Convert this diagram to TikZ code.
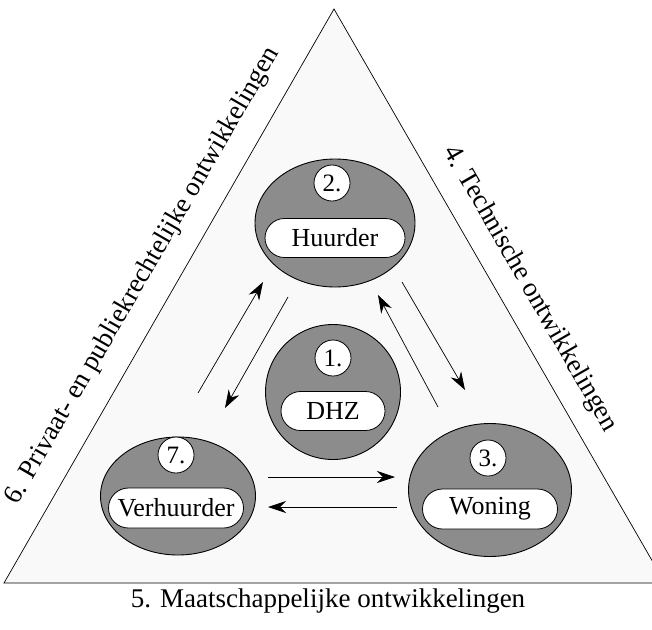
\documentclass[tikz,border=0pt]{standalone}
\usepackage{fontspec}
\setmainfont{Liberation Serif}
\usetikzlibrary{positioning,calc}
\usetikzlibrary{arrows.meta,shapes.geometric,shapes.misc}
\definecolor{DiskGray}{RGB}{140,140,140}
\definecolor{FieldGray}{RGB}{249,249,249}
\tikzset{
	disk/.style={ellipse,draw=black,fill=DiskGray,line width=0.9pt,inner sep=0pt},
	num/.style={circle,draw=black,fill=white,line width=0.8pt,minimum size=36pt,inner sep=0pt,
		font=\fontsize{25}{25}\selectfont},
	tag/.style={rounded rectangle,draw=black,fill=white,line width=0.8pt,minimum height=39pt,
		inner sep=0pt,font=\fontsize{26}{26}\selectfont},
	flow/.style={-{Stealth[length=18pt,width=12pt]},line width=0.7pt},
	side/.style={font=\fontsize{27}{27}\selectfont},
}
\begin{document}
\begin{tikzpicture}[x=1pt,y=-1pt]
			\useasboundingbox (0,0) rectangle (652,629);
			\coordinate (apex) at (334,9);
			\coordinate (lc) at (4,583);
			\coordinate (rc) at (665,583);
			\draw[fill=FieldGray,line width=0.7pt] (apex)--(lc)--(rc)--cycle;
			\node[disk,minimum width=160pt,minimum height=128pt] (huurder) at (335,223) {};
			\node[num] (n2) at (332,183) {2.};
			\node[tag,minimum width=140pt] (t2) at (335,238) {Huurder};
			\node[disk,minimum width=135pt,minimum height=135pt] (dhz) at (333,392) {};
			\node[num] (n1) at (333,358) {1.};
			\node[tag,minimum width=104pt] (t1) at (333,411) {DHZ};
			\node[disk,minimum width=155pt,minimum height=118pt] (verhuurder) at (178,496) {};
			\node[num] (n7) at (176,455) {7.};
			\node[tag,minimum width=135pt,minimum height=40pt] (t7) at (176,508) {Verhuurder};
			\node[disk,minimum width=163pt,minimum height=133pt] (woning) at (490,490) {};
			\node[num] (n3) at (488,458) {3.};
			\node[tag,minimum width=135pt,minimum height=40pt] (t3) at (490,509) {Woning};
			\coordinate (vh1) at (198,393);
			\coordinate (vh2) at (263,282);
			\coordinate (hv1) at (288,297);
			\coordinate (hv2) at (225,408);
			\coordinate (wh1) at (438,407);
			\coordinate (wh2) at (378,295);
			\coordinate (hw1) at (402,282);
			\coordinate (hw2) at (465,390);
			\coordinate (vw1) at (268,477);
			\coordinate (vw2) at (395,477);
			\coordinate (wv1) at (397,507);
			\coordinate (wv2) at (268,507);
			\draw[flow] (vh1)--(vh2);
			\draw[flow] (hv1)--(hv2);
			\draw[flow] (wh1)--(wh2);
			\draw[flow] (hw1)--(hw2);
			\draw[flow] (vw1)--(vw2);
			\draw[flow] (wv1)--(wv2);
			\node[side,rotate=60] (privaat) at (143,276) {6. Privaat- en publiekrechtelijke ontwikkelingen};
			\node[side,rotate=-60] (techniek) at (530,289) {4. Technische ontwikkelingen};
			\node[side] (maatsch) at (328,601) {5. Maatschappelijke ontwikkelingen};
\end{tikzpicture}
\end{document}
